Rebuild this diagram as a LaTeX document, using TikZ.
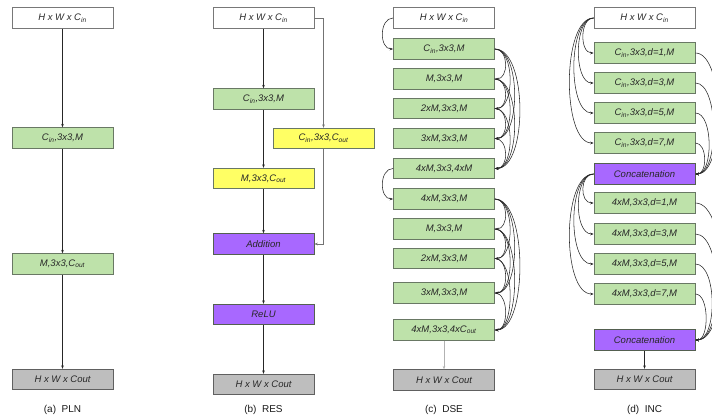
\documentclass[tikz,border=0pt]{standalone}
\usepackage{fontspec}
\setmainfont{Liberation Sans}
\usetikzlibrary{arrows.meta}
\definecolor{gfill}{RGB}{190,226,170}
\definecolor{gbord}{RGB}{105,120,100}
\definecolor{yfill}{RGB}{255,255,100}
\definecolor{pfill}{RGB}{168,104,255}
\definecolor{grfill}{RGB}{190,190,190}
\definecolor{bordc}{RGB}{120,120,120}
\definecolor{txtc}{RGB}{40,40,40}
\newcommand{\sub}[1]{\textsubscript{#1}}
\begin{document}
\begin{tikzpicture}[x=1pt,y=-1pt,
  box/.style={draw=bordc, line width=0.8pt, minimum width=101pt, minimum height=20.5pt, inner sep=0pt,
    font=\fontsize{9.5}{11}\selectfont\itshape, text=txtc},
  wbox/.style={box, fill=white},
  gbox/.style={box, fill=gfill, draw=gbord},
  ybox/.style={box, fill=yfill, draw=gbord},
  pbox/.style={box, fill=pfill, draw=gbord!80!black},
  grbox/.style={box, fill=grfill, draw=bordc!80!black},
  arr/.style={-{Stealth[length=3.5pt,width=2.6pt]}, line width=0.55pt, draw=black!85},
  skip/.style={arr, draw=black!55},
  captext/.style={font=\fontsize{10}{12}\selectfont, text=black!90}
]
\useasboundingbox (0,0) rectangle (712,419);

% ---------- (a) PLN
\node[wbox]  (a1) at (62.5,18)  {H x W x C\sub{in}};
\node[gbox]  (a2) at (62.5,138) {C\sub{in},3x3,M};
\node[gbox]  (a3) at (62.5,264) {M,3x3,C\sub{out}};
\node[grbox] (a4) at (62.5,379.5) {H x W x Cout};
\draw[arr] (a1) -- (a2);
\draw[arr] (a2) -- (a3);
\draw[arr] (a3) -- (a4);
\node[captext] (capa) at (62.5,410) {(a)\ \ PLN};

% ---------- (b) RES
\node[wbox]  (b1) at (263.5,18)  {H x W x C\sub{in}};
\node[gbox]  (b2) at (263.5,99)  {C\sub{in},3x3,M};
\node[ybox]  (by) at (323.5,138.5) {C\sub{in},3x3,C\sub{out}};
\node[ybox]  (b3) at (263.5,178.5) {M,3x3,C\sub{out}};
\node[pbox]  (b4) at (263.5,244) {Addition};
\node[pbox]  (b5) at (263.5,314.5) {ReLU};
\node[grbox] (b6) at (263.5,384.5) {H x W x Cout};
\draw[arr] (b1) -- (b2);
\draw[arr] (b2) -- (b3);
\draw[arr] (b3) -- (b4);
\draw[arr] (b4) -- (b5);
\draw[arr] (b5) -- (b6);
\draw[skip] (b1.east) -| (by.north);
\draw[skip] (by.south) |- (b4.east);
\node[captext] (capb) at (263.5,410) {(b)\ \ RES};

% ---------- (c) DSE
\node[wbox]  (c0) at (444,18)   {H x W x C\sub{in}};
\node[gbox]  (c1) at (444,49)   {C\sub{in},3x3,M};
\node[gbox]  (c2) at (444,79)   {M,3x3,M};
\node[gbox]  (c3) at (444,108.5) {2xM,3x3,M};
\node[gbox]  (c4) at (444,138.5) {3xM,3x3,M};
\node[gbox]  (c5) at (444,168.5) {4xM,3x3,4xM};
\node[gbox]  (c6) at (444,199)  {4xM,3x3,M};
\node[gbox]  (c7) at (444,229)  {M,3x3,M};
\node[gbox]  (c8) at (444,258.5) {2xM,3x3,M};
\node[gbox]  (c9) at (444,293)  {3xM,3x3,M};
\node[gbox]  (c10) at (444,330) {4xM,3x3,4xC\sub{out}};
\node[grbox] (c11) at (444,380) {H x W x Cout};
\draw[arr] (c0.west) .. controls +(-14,0) and +(-14,0) .. (c1.west);
\draw[arr] (c5.west) .. controls +(-14,0) and +(-14,0) .. (c6.west);
\foreach \i/\j/\b in {1/2/14,1/3/20,1/4/26,1/5/33,2/3/14,2/4/20,2/5/26,3/4/14,3/5/20,4/5/14}{
  \draw[arr] (c\i.east) .. controls +(\b,0) and +(\b,0) .. (c\j.east);
}
\foreach \i/\j/\b in {6/7/14,6/8/20,6/9/26,6/10/33,7/8/14,7/9/20,7/10/26,8/9/14,8/10/20,9/10/14}{
  \draw[arr] (c\i.east) .. controls +(\b,0) and +(\b,0) .. (c\j.east);
}
\draw[arr, draw=black!30] (c10) -- (c11);
\node[captext] (capc) at (444,410) {(c)\ \ DSE};

% ---------- (d) INC
\node[wbox]  (d0) at (644.5,18)  {H x W x C\sub{in}};
\node[gbox]  (d1) at (644.5,53)  {C\sub{in},3x3,d=1,M};
\node[gbox]  (d2) at (644.5,83)  {C\sub{in},3x3,d=3,M};
\node[gbox]  (d3) at (644.5,113) {C\sub{in},3x3,d=5,M};
\node[gbox]  (d4) at (644.5,143) {C\sub{in},3x3,d=7,M};
\node[pbox]  (d5) at (644.5,174) {Concatenation};
\node[gbox]  (d6) at (644.5,203) {4xM,3x3,d=1,M};
\node[gbox]  (d7) at (644.5,234) {4xM,3x3,d=3,M};
\node[gbox]  (d8) at (644.5,264) {4xM,3x3,d=5,M};
\node[gbox]  (d9) at (644.5,294) {4xM,3x3,d=7,M};
\node[pbox]  (d10) at (644.5,340) {Concatenation};
\node[grbox] (d11) at (644.5,379.5) {H x W x Cout};
\foreach \j/\b in {1/14,2/20,3/26,4/32}{
  \draw[arr] (d0.west) .. controls +(-\b,0) and +(-\b,0) .. (d\j.west);
}
\foreach \j/\b in {1/30,2/24,3/18,4/12}{
  \draw[arr] (d\j.east) .. controls +(\b,0) and +(\b,0) .. (d5.east);
}
\foreach \j/\b in {6/14,7/20,8/26,9/32}{
  \draw[arr] (d5.west) .. controls +(-\b,0) and +(-\b,0) .. (d\j.west);
}
\foreach \j/\b in {6/34,7/28,8/22,9/14}{
  \draw[arr] (d\j.east) .. controls +(\b,0) and +(\b,0) .. (d10.east);
}
\draw[arr] (d10) -- (d11);
\node[captext] (capd) at (644.5,410) {(d)\ \ INC};
\end{tikzpicture}
\end{document}
